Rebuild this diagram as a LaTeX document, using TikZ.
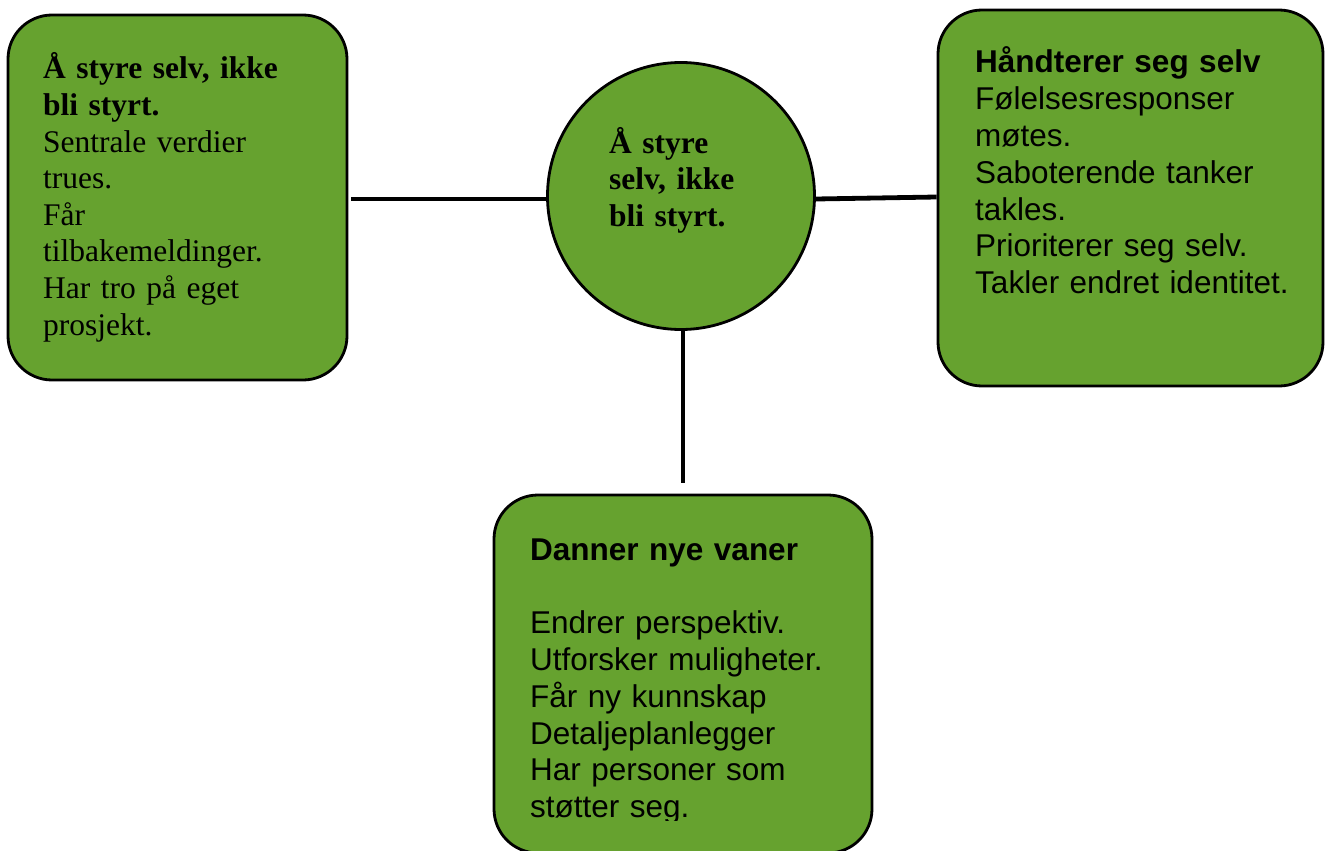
\documentclass[tikz,border=0pt]{standalone}
\usepackage{fontspec}
\setmainfont{Liberation Serif}
\setsansfont{Liberation Sans}
\definecolor{boxgreen}{RGB}{102,162,47}
\tikzset{
  x=1pt, y=-1pt,
  gbox/.style={draw=black, line width=2.8pt, fill=boxgreen, rounded corners=44pt, inner sep=0pt},
  gcirc/.style={circle, draw=black, line width=2.8pt, fill=boxgreen, inner sep=0pt, minimum size=267pt},
  serifbody/.style={anchor=base west, inner sep=0pt, align=left, text width=330pt,
    font=\fontsize{31.5}{36.6}\selectfont},
  sansbody/.style={anchor=base west, inner sep=0pt, align=left, text width=380pt,
    font=\sffamily\fontsize{31.5}{36.8}\selectfont},
  conn/.style={line width=4.8pt, black}
}
\begin{document}
\begin{tikzpicture}
\useasboundingbox (0,0) rectangle (1326,851);
% boxes
\node[gbox, minimum width=339pt, minimum height=365pt] (L) at (177.5,197.5) {};
\node[gbox, minimum width=385pt, minimum height=376pt] (R) at (1130.5,198) {};
\node[gbox, minimum width=378pt, minimum height=358pt] (B) at (683,674) {};
\node[gcirc] (C) at (681,196) {};
% connectors
\draw[conn, shorten <=3pt] ([yshift=-1.5pt]L.east) -- ([yshift=-3pt]C.west);
\draw[conn] ([yshift=-3pt]C.east) -- ([yshift=1pt]R.west);
\draw[conn, shorten >=11pt] (C.south -| B.north) -- (B.north);
% texts
\node[serifbody] (Lt) at (43,79) {\textbf{Å styre selv, ikke}\\\textbf{bli styrt.}\\Sentrale verdier\\trues.\\Får\\tilbakemeldinger.\\Har tro på eget\\prosjekt.};
\node[serifbody, text width=200pt] (Ct) at (609,153) {\textbf{Å styre}\\\textbf{selv, ikke}\\\textbf{bli styrt.}};
\node[sansbody] (Rt) at (975,73) {\textbf{Håndterer seg selv}\\Følelsesresponser\\møtes.\\Saboterende tanker\\takles.\\Prioriterer seg selv.\\Takler endret identitet.};
\begin{scope}
\clip (480,480) rectangle (880,820);
\node[sansbody] (Bt) at (530,560) {\textbf{Danner nye vaner}\\[36.8pt]Endrer perspektiv.\\Utforsker muligheter.\\Får ny kunnskap\\Detaljeplanlegger\\Har personer som\\støtter seg.};
\end{scope}
\end{tikzpicture}
\end{document}
